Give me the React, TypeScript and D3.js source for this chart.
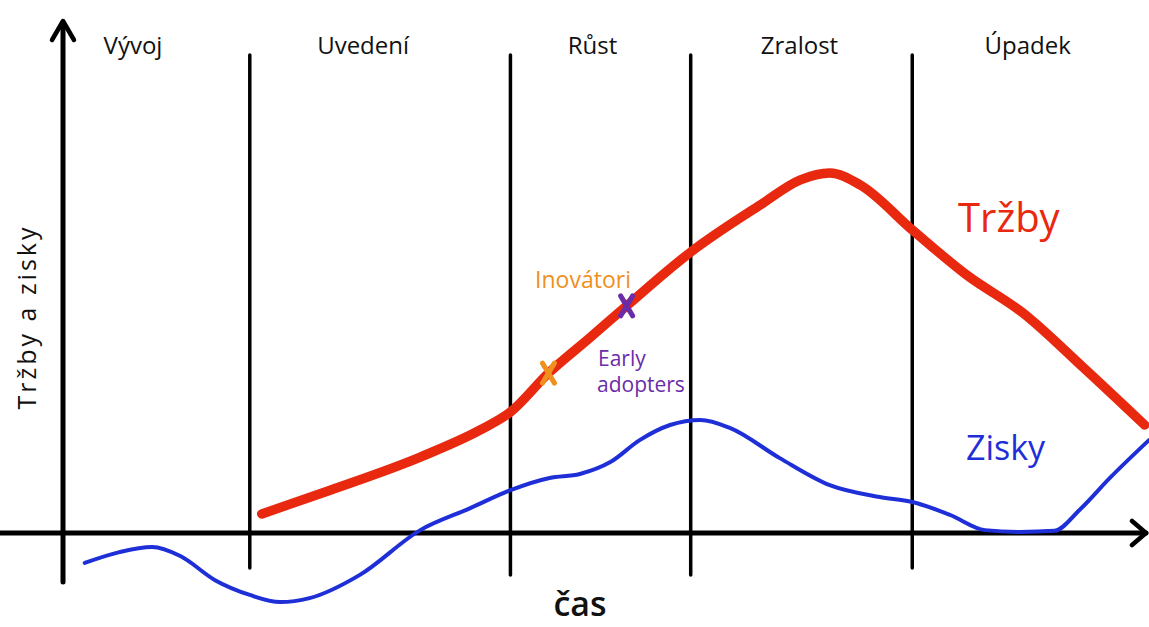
import React from "react";
import * as d3 from "d3";

const W = 1149;
const H = 627;

// time units 0..100, value units (x axis = 0)
const phaseNames = ["Vývoj", "Uvedení", "Růst", "Zralost", "Úpadek"];
const phaseBounds = [0, 17.2, 41.2, 57.8, 78.2, 100];

const salesT = [18.3, 24.6, 32.9, 38.4, 41.2, 44.7, 48.5, 51.9, 57.7, 64.2, 67.9, 70.6, 73.4, 78.2, 83.2, 88.4, 93.9, 99.6];
const salesV = [5.3, 11.9, 21.1, 28.6, 33.6, 44.4, 54.2, 63.1, 77.8, 91.1, 98.1, 100, 96.7, 84.2, 71.7, 61.1, 46.1, 30];

const profitT = [2.0, 5.2, 8.2, 10.8, 14.0, 17.2, 20.0, 22.7, 27.3, 32.9, 37.5, 41.2, 44.8, 47.6, 50.4, 53.1, 55.9, 58.7, 61.4, 66.0, 70.6, 75.2, 78.2, 81.7, 84.9, 88.1, 91.3, 93.6, 96.4, 100];
const profitV = [-8.3, -5.3, -3.9, -6.4, -13.1, -17.2, -19.2, -18.1, -11.7, 0.8, 6.9, 11.9, 15.3, 16.4, 19.7, 25.8, 30, 31.4, 29.2, 20.8, 13.3, 10, 8.6, 5, 0.8, 0.3, 0.6, 6.4, 15.3, 25.8];

const markerNames = ["Inovátori", "Early adopters"];
const markerT = [44.7, 51.9];
const markerV = [44.4, 63.1];

const font = "'Open Sans', 'DejaVu Sans', sans-serif";

export default function App() {
  const x = d3.scaleLinear().domain([0, 100]).range([63, 1149]);
  const y = d3.scaleLinear().domain([0, 100]).range([533, 173]);

  const line = d3
    .line<[number, number]>()
    .x((d) => x(d[0]))
    .y((d) => y(d[1]))
    .curve(d3.curveMonotoneX);

  const sales = line(salesT.map((t, i) => [t, salesV[i]]) as [number, number][]) || "";
  const profit = line(profitT.map((t, i) => [t, profitV[i]]) as [number, number][]) || "";

  const dividers = phaseBounds.slice(1, -1);
  const markerColors = ["#f0901e", "#6a2ca8"];
  const labelShift = [0, -17, -8, -2, -3];

  return (
    <svg
      width={W}
      height={H}
      style={{ position: "absolute", left: 0, top: 0, background: "#fff" }}
      fontFamily={font}
    >
      {/* phase dividers */}
      {dividers.map((t, i) => (
        <line
          key={i}
          x1={x(t)}
          x2={x(t)}
          y1={55}
          y2={i === 0 || i === 3 ? 568 : 575}
          stroke="#000"
          strokeWidth={3.5}
          strokeLinecap="round"
        />
      ))}
      {/* phase labels */}
      {phaseNames.map((n, i) => {
        const cx = i === 0 ? 133 : (x(phaseBounds[i]) + x(phaseBounds[i + 1])) / 2 + labelShift[i];
        return (
          <text key={n} x={cx} y={54} fontSize={24} textAnchor="middle" fill="#111">
            {n}
          </text>
        );
      })}
      {/* y axis */}
      <line x1={63} x2={63} y1={24} y2={582} stroke="#000" strokeWidth={5} strokeLinecap="round" />
      <polyline points="52,40 63,21 74,40" fill="none" stroke="#000" strokeWidth={4.5} strokeLinecap="round" strokeLinejoin="round" />
      {/* x axis */}
      <line x1={0} x2={1146} y1={533} y2={533} stroke="#000" strokeWidth={5} strokeLinecap="round" />
      <polyline points="1132,521 1146,533 1132,545" fill="none" stroke="#000" strokeWidth={4.5} strokeLinecap="round" strokeLinejoin="round" />

      {/* curves */}
      <path d={profit} fill="none" stroke="#1f2fd8" strokeWidth={4} strokeLinecap="round" strokeLinejoin="round" />
      <path d={sales} fill="none" stroke="#e8280f" strokeWidth={9.5} strokeLinecap="round" strokeLinejoin="round" />

      {/* markers */}
      {markerT.map((t, i) => {
        const cx = x(t);
        const cy = y(markerV[i]);
        const s = 10;
        return (
          <g key={i} stroke={markerColors[i]} strokeWidth={5} strokeLinecap="round">
            <line x1={cx - s * 0.6} y1={cy - s} x2={cx + s * 0.6} y2={cy + s} />
            <line x1={cx + s * 0.6} y1={cy - s} x2={cx - s * 0.6} y2={cy + s} />
          </g>
        );
      })}
      <text x={583} y={288} fontSize={23} textAnchor="middle" fill={markerColors[0]}>
        {markerNames[0]}
      </text>
      <text x={598} y={366} fontSize={21} fill={markerColors[1]}>
        {markerNames[1].split(" ")[0]}
      </text>
      <text x={597} y={392} fontSize={21} fill={markerColors[1]}>
        {markerNames[1].split(" ")[1]}
      </text>

      {/* series labels */}
      <text x={958} y={232} fontSize={40} fill="#e8280f">Tržby</text>
      <text x={966} y={460} fontSize={34} fill="#1f2fd8">Zisky</text>

      {/* axis titles */}
      <text x={580} y={616} fontSize={34} textAnchor="middle" fill="#111" fontWeight={600}>
        čas
      </text>
      <text
        transform="translate(36,317) rotate(-90)"
        fontSize={25}
        letterSpacing={3}
        textAnchor="middle"
        fill="#111"
      >
        Tržby a zisky
      </text>
    </svg>
  );
}
